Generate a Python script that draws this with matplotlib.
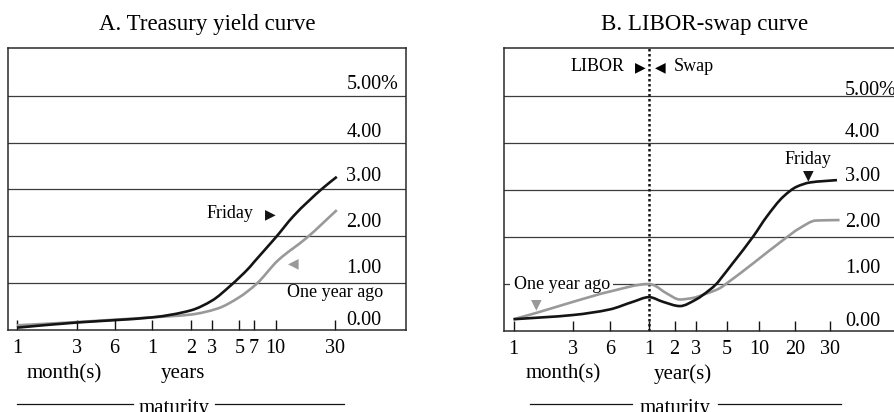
import numpy as np
import matplotlib
matplotlib.use("Agg")
import matplotlib.pyplot as plt
import matplotlib.transforms as mtransforms
from matplotlib.path import Path
from matplotlib.patches import PathPatch
from matplotlib.ticker import NullLocator

plt.rcParams["font.family"] = ["Liberation Serif", "DejaVu Sans"]

# ---- Panel A: Treasury yield curve (yield in %, maturity in months) ----
treasury_months_friday = [1, 3, 6, 12, 24, 36, 51, 60, 76, 84, 120, 167, 288, 372]
treasury_friday = [0.05, 0.16, 0.21, 0.27, 0.42, 0.63, 0.95, 1.12, 1.34, 1.45, 1.97, 2.43, 3.03, 3.27]
treasury_months_year_ago = [1, 3, 6, 12, 24, 40, 60, 88, 125, 214, 372]
treasury_year_ago = [0.10, 0.17, 0.22, 0.27, 0.33, 0.46, 0.70, 0.99, 1.48, 1.97, 2.56]
treasury_tick_months = [1, 3, 6, 12, 24, 36, 60, 84, 120, 360]
treasury_tick_labels = ["1", "3", "6", "1", "2", "3", "5", "7", "10", "30"]

# ---- Panel B: LIBOR-swap curve ----
swap_months_friday = [1, 3, 6, 9, 12, 17.6, 26.6, 36, 45, 51, 54, 69, 106, 139, 192, 245, 286, 396]
swap_friday = [0.25, 0.34, 0.46, 0.62, 0.72, 0.62, 0.53, 0.67, 0.87, 1.01, 1.10, 1.45, 2.01, 2.43, 2.86,
               3.07, 3.16, 3.21]
swap_months_year_ago = [1, 1.5, 3, 6, 12, 13.4, 19.4, 26.6, 33.4, 43.3, 53.6, 60, 106, 192, 254, 306, 410]
swap_year_ago = [0.25, 0.38, 0.62, 0.84, 1.00, 0.98, 0.80, 0.67, 0.70, 0.80, 0.91, 1.01, 1.44, 1.94,
                 2.19, 2.35, 2.36]
swap_tick_months = [1, 3, 6, 12, 24, 36, 60, 120, 240, 360]
swap_tick_labels = ["1", "3", "6", "1", "2", "3", "5", "10", "20", "30"]

grid_levels = [0, 1, 2, 3, 4, 5]
grid_labels = ["0.00", "1.00", "2.00", "3.00", "4.00", "5.00%"]

BLACK = "#141414"
GRAY = "#999999"
GRID = "#3c3c3c"

fig = plt.figure(figsize=(8.94, 4.12), dpi=100)


def maturity_axis(ax, knot_months, knot_pos):
    """Maturity axis spaced like the printed chart: piecewise log spacing."""
    lk = np.log(np.asarray(knot_months, float))
    kp = np.asarray(knot_pos, float)

    def fwd(m):
        m = np.clip(np.asarray(m, float), 1e-6, None)
        return np.interp(np.log(m), lk, kp)

    def inv(p):
        return np.exp(np.interp(np.asarray(p, float), kp, lk))

    ax.set_xscale("function", functions=(fwd, inv))
    ax.set_xlim(knot_months[0], knot_months[-1])
    return fwd, inv


def smooth_line(ax, months, values, fwd, inv, **kw):
    """Draw a smooth (cubic Bezier) line through the given points."""
    u = fwd(np.asarray(months, float))
    y = np.asarray(values, float)
    h = np.diff(u)
    d = np.diff(y) / h
    m = np.zeros_like(y)
    m[0], m[-1] = d[0], d[-1]
    for i in range(1, len(y) - 1):
        if d[i - 1] * d[i] > 0:
            w1 = 2 * h[i] + h[i - 1]
            w2 = h[i] + 2 * h[i - 1]
            m[i] = (w1 + w2) / (w1 / d[i - 1] + w2 / d[i])
    verts = [(u[0], y[0])]
    codes = [Path.MOVETO]
    for i in range(len(y) - 1):
        verts += [(u[i] + h[i] / 3, y[i] + m[i] * h[i] / 3),
                  (u[i + 1] - h[i] / 3, y[i + 1] - m[i + 1] * h[i] / 3),
                  (u[i + 1], y[i + 1])]
        codes += [Path.CURVE4] * 3
    verts = np.array(verts)
    verts[:, 0] = inv(verts[:, 0])
    patch = PathPatch(Path(verts, codes), fill=False, transform=ax.transData,
                      capstyle="butt", joinstyle="round", **kw)
    ax.add_patch(patch)


def style_panel(ax, title, tick_months, tick_labels, label_lift):
    ax.set_ylim(0, 6.02)
    ax.set_xticks(tick_months)
    ax.set_xticklabels(tick_labels)
    ax.xaxis.set_minor_locator(NullLocator())
    ax.tick_params(axis="x", direction="in", length=7.2, width=1.0, pad=6.5,
                   labelsize=14.5, color=BLACK)
    ax.tick_params(axis="y", left=False, labelleft=False)
    for s in ax.spines.values():
        s.set_linewidth(1.1)
        s.set_color("#2a2a2a")
    for v in grid_levels[1:]:
        ax.axhline(v, color=GRID, lw=0.9, zorder=1)
    tr = mtransforms.blended_transform_factory(ax.transAxes, ax.transData)
    for v, lab, lift in zip(grid_levels, grid_labels, label_lift):
        ax.annotate(lab, xy=(0.85, v), xycoords=tr, xytext=(0, lift),
                    textcoords="offset points", ha="left", va="baseline",
                    fontsize=14.5, zorder=2)
    ax.set_title(title, fontsize=16.5, pad=13)


TRI = dict(family="DejaVu Sans", fontsize=10, ha="center", va="center")

# ---------------- Panel A ----------------
axA = fig.add_axes([8 / 894, 82 / 412, 398 / 894, 282 / 412])
fA, iA = maturity_axis(axA, [0.85, 1, 3, 6, 12, 24, 36, 60, 84, 120, 360, 1320],
                       [8, 17, 77, 114.5, 152.3, 191, 212.2, 239.3, 254, 275.5, 335, 406])
style_panel(axA, "A. Treasury yield curve", treasury_tick_months, treasury_tick_labels,
            [3.6, 7.0, 6.5, 5.8, 4.0, 5.0])
smooth_line(axA, treasury_months_year_ago, treasury_year_ago, fA, iA,
            edgecolor=GRAY, lw=1.9, zorder=3)
smooth_line(axA, treasury_months_friday, treasury_friday, fA, iA,
            edgecolor=BLACK, lw=1.9, zorder=4)

axA.text(82, 2.49, "Friday", ha="right", va="center", fontsize=13)
axA.text(110, 2.46, "\u25B6", color=BLACK, **TRI)
axA.text(167, 1.43, "\u25C0", color=GRAY, **TRI)
trA = mtransforms.blended_transform_factory(axA.transAxes, axA.transData)
axA.text(0.942, 0.79, "One year ago", transform=trA, ha="right", va="center", fontsize=13)

axA.text(0.141, -0.156, "month(s)", transform=axA.transAxes, ha="center", va="center",
         fontsize=15)
axA.text(0.44, -0.156, "years", transform=axA.transAxes, ha="center", va="center",
         fontsize=15)
axA.text(0.417, -0.294, "maturity", transform=axA.transAxes, ha="center", va="baseline",
         fontsize=15)
for x0, x1 in [(0.023, 0.314), (0.52, 0.844)]:
    axA.plot([x0, x1], [-0.262, -0.262], transform=axA.transAxes, color=BLACK,
             lw=0.9, clip_on=False)

# ---------------- Panel B ----------------
axB = fig.add_axes([504 / 894, 81 / 412, 401 / 894, 283 / 412])
fB, iB = maturity_axis(axB, [0.84, 1, 3, 6, 12, 24, 36, 60, 120, 240, 360, 1000],
                       [504, 513.5, 573, 610, 649, 674.5, 696, 726.5, 759, 795, 830, 905])
style_panel(axB, "B. LIBOR-swap curve", swap_tick_months, swap_tick_labels,
            [3.6, 7.6, 7.0, 6.2, 4.3, 0.5])
axB.axvline(12, color=BLACK, lw=1.8, ls=(0, (1, 1)), zorder=2)
smooth_line(axB, swap_months_year_ago, swap_year_ago, fB, iB,
            edgecolor=GRAY, lw=1.9, zorder=3)
smooth_line(axB, swap_months_friday, swap_friday, fB, iB,
            edgecolor=BLACK, lw=1.9, zorder=4)

axB.annotate("LIBOR", xy=(12, 5.62), xytext=(-17.3, 0), textcoords="offset points",
             ha="right", va="center", fontsize=13)
axB.annotate("\u25B6", xy=(12, 5.62), xytext=(-6.5, 0), textcoords="offset points", **TRI)
axB.annotate("\u25C0", xy=(12, 5.62), xytext=(8, 0), textcoords="offset points", **TRI)
axB.annotate("Swap", xy=(12, 5.62), xytext=(18, 0), textcoords="offset points",
             ha="left", va="center", fontsize=13)

axB.text(279, 3.64, "Friday", ha="center", va="center", fontsize=13)
axB.text(279, 3.32, "\u25BC", color=BLACK, **TRI)
axB.text(1.0, 0.98, "One year ago", ha="left", va="center", fontsize=13, zorder=2.5,
         bbox=dict(boxstyle="square,pad=0.2", fc="white", ec="none"))
axB.text(1.535, 0.57, "\u25BC", color=GRAY, **TRI)

axB.text(0.147, -0.152, "month(s)", transform=axB.transAxes, ha="center", va="center",
         fontsize=15)
axB.text(0.446, -0.152, "year(s)", transform=axB.transAxes, ha="center", va="center",
         fontsize=15)
axB.text(0.426, -0.29, "maturity", transform=axB.transAxes, ha="center", va="baseline",
         fontsize=15)
for x0, x1 in [(0.065, 0.319), (0.534, 0.840)]:
    axB.plot([x0, x1], [-0.258, -0.258], transform=axB.transAxes, color=BLACK,
             lw=0.9, clip_on=False)

fig.savefig("out.png", dpi=100)
